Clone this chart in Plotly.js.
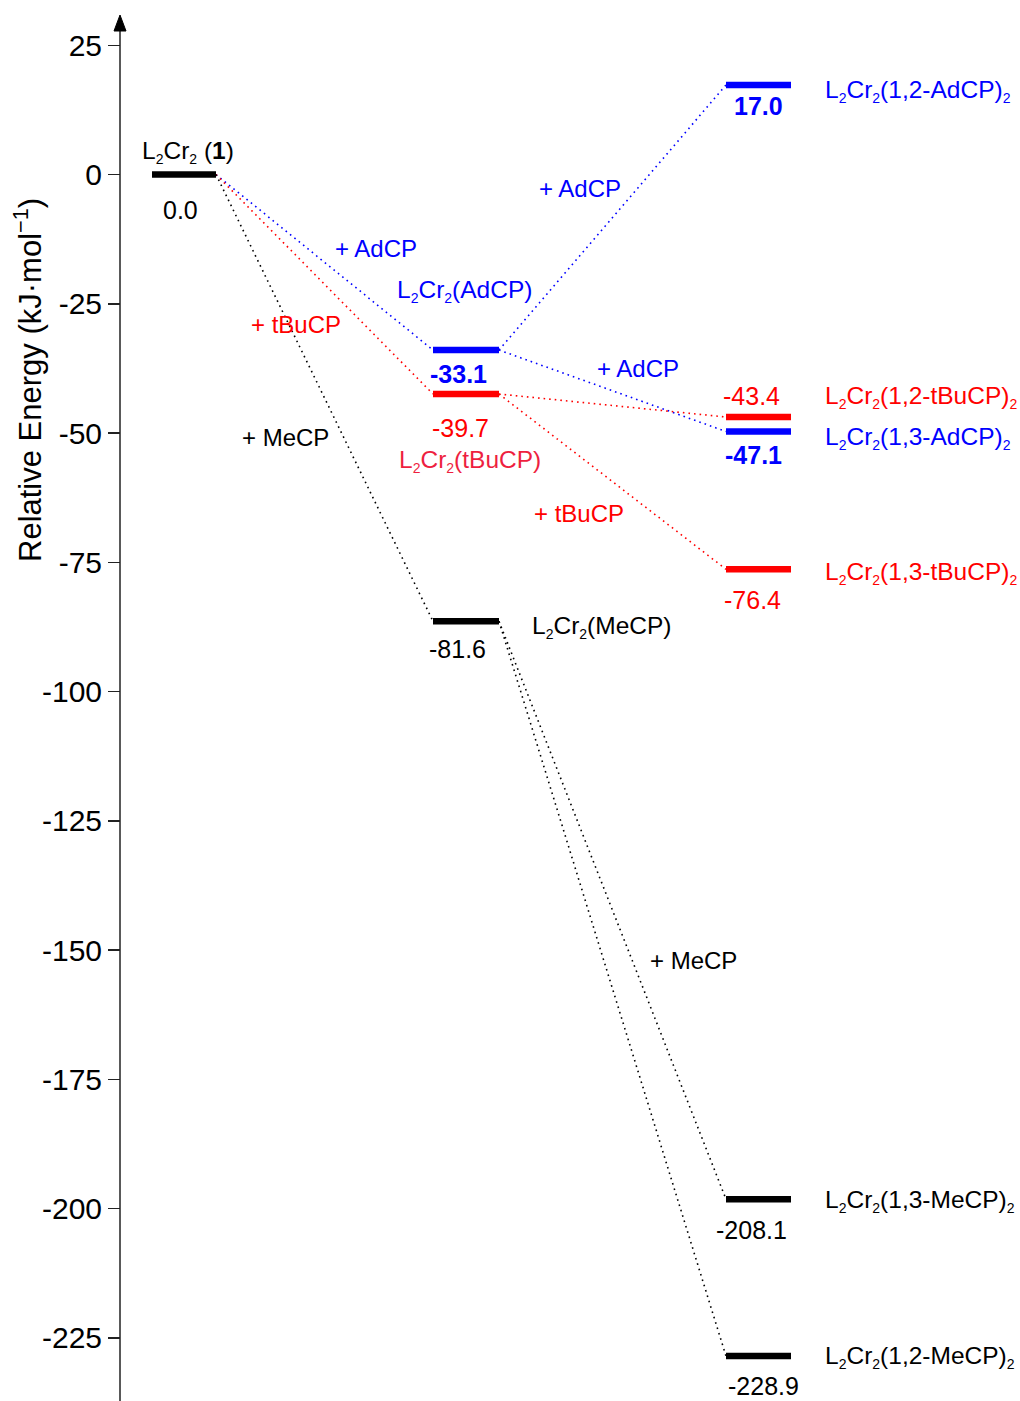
<!DOCTYPE html>
<html><head><meta charset="utf-8">
<script src="https://cdn.plot.ly/plotly-3.0.1.min.js"></script>
<style>html,body{margin:0;padding:0;background:#fff}#chart{width:1020px;height:1401px}</style>
</head><body><div id="chart"></div>
<script>
// ---------- data ----------
const S2 = '<sub><span style="font-size:14px">2</span></sub>';
const speciesNames = [
  'L' + S2 + 'Cr' + S2 + ' (<b>1</b>)',
  'L' + S2 + 'Cr' + S2 + '(AdCP)',
  'L' + S2 + 'Cr' + S2 + '(tBuCP)',
  'L' + S2 + 'Cr' + S2 + '(MeCP)',
  'L' + S2 + 'Cr' + S2 + '(1,2-AdCP)' + S2,
  'L' + S2 + 'Cr' + S2 + '(1,3-AdCP)' + S2,
  'L' + S2 + 'Cr' + S2 + '(1,2-tBuCP)' + S2,
  'L' + S2 + 'Cr' + S2 + '(1,3-tBuCP)' + S2,
  'L' + S2 + 'Cr' + S2 + '(1,3-MeCP)' + S2,
  'L' + S2 + 'Cr' + S2 + '(1,2-MeCP)' + S2
];
const speciesSeries = ['none','AdCP','tBuCP','MeCP','AdCP','AdCP','tBuCP','tBuCP','MeCP','MeCP'];
const speciesStage = [0, 1, 1, 1, 2, 2, 2, 2, 2, 2];
// level heights as drawn in the picture (kJ/mol)
const drawnLevels = [0, -33.95, -42.46, -86.42, 17.31, -49.71, -46.91, -76.36, -198.2, -228.55];
// energy labels printed next to each level
const energyLabels = ['0.0', '-33.1', '-39.7', '-81.6', '17.0', '-47.1', '-43.4', '-76.4', '-208.1', '-228.9'];
// reaction steps: [from, to]
const links = [[0,1],[0,2],[0,3],[1,4],[1,5],[2,6],[2,7],[3,8],[3,9]];
const reactionLabels = ['+ AdCP', '+ tBuCP', '+ MeCP', '+ AdCP', '+ AdCP', '+ tBuCP', '+ MeCP'];
const reactionSeries = ['AdCP', 'tBuCP', 'MeCP', 'AdCP', 'AdCP', 'tBuCP', 'MeCP'];
const tickVals = [25, 0, -25, -50, -75, -100, -125, -150, -175, -200, -225];
const tickText = ['25', '0', '-25', '-50', '-75', '-100', '-125', '-150', '-175', '-200', '-225'];

// ---------- styling / layout ----------
const FONT = 'Liberation Sans, Arial, Helvetica, sans-serif';
const seriesColor = {none: '#000000', AdCP: '#0000FF', tBuCP: '#FF0000', MeCP: '#000000'};
const stageX = [[152, 216], [433, 499], [726, 791]];
const ZERO_PX = 174.5, K = 5.17, H = 1401;
const px2y = p => (ZERO_PX - p) / K;
const yTop = px2y(0), yBot = px2y(H);

// value label placement: [dx from bar center, dy px below (neg = above), bold]
const valuePos = [[-4,35,0],[-8,24,1],[-6,34,0],[-9,28,0],[0,21,1],[-5,23,1],[-7,-21,0],[-6,31,0],[-7,31,0],[5,30,0]];
// name label placement: [x px, xanchor, dy px below]
const namePos = [[188,'center',-23],[464,'center',-59],[470,'center',67],[530,'left',6],
  [823,'left',6],[823,'left',6.5],[823,'left',-20],[823,'left',4],[823,'left',2],[823,'left',1]];
const nameColor = i => (i === 2 ? '#EE1F3F' : seriesColor[speciesSeries[i]]);
const reactionPos = [[376,248],[296,324],[285,437],[580,188],[638,368],[579,513],[693,960]];

const traces = [];
links.forEach(([a, b]) => {
  traces.push({
    x: [stageX[speciesStage[a]][1], stageX[speciesStage[b]][0]],
    y: [drawnLevels[a], drawnLevels[b]],
    mode: 'lines', hoverinfo: 'skip', showlegend: false,
    line: {color: seriesColor[speciesSeries[b]], width: 1.6, dash: '1.6px,4px'}
  });
});
drawnLevels.forEach((lv, i) => {
  const st = stageX[speciesStage[i]];
  traces.push({
    x: [st[0], st[1]], y: [lv, lv], mode: 'lines', hoverinfo: 'skip', showlegend: false,
    line: {color: seriesColor[speciesSeries[i]], width: 6.5}
  });
});

const ann = [];
drawnLevels.forEach((lv, i) => {
  const st = stageX[speciesStage[i]];
  const c = (st[0] + st[1]) / 2;
  const vp = valuePos[i];
  ann.push({x: c + vp[0], y: lv, yshift: -vp[1], xref: 'x', yref: 'y', showarrow: false,
    xanchor: 'center', yanchor: 'middle',
    text: vp[2] ? '<b>' + energyLabels[i] + '</b>' : energyLabels[i],
    font: {family: FONT, size: 25, color: seriesColor[speciesSeries[i]]}});
  const np = namePos[i];
  ann.push({x: np[0], y: lv, yshift: -np[2], xref: 'x', yref: 'y', showarrow: false,
    xanchor: np[1], yanchor: 'middle', text: speciesNames[i],
    font: {family: FONT, size: 24.5, color: nameColor(i)}});
});
reactionLabels.forEach((t, i) => {
  ann.push({x: reactionPos[i][0], y: px2y(reactionPos[i][1]), xref: 'x', yref: 'y', showarrow: false,
    xanchor: 'center', yanchor: 'middle', text: t,
    font: {family: FONT, size: 24, color: seriesColor[reactionSeries[i]]}});
});
ann.push({x: 28, y: px2y(380), xref: 'x', yref: 'y', showarrow: false, textangle: -90,
  xanchor: 'center', yanchor: 'middle', text: 'Relative Energy (kJ·mol<sup>−1</sup>)',
  font: {family: FONT, size: 31, color: '#000'}});

const layout = {
  width: 1020, height: 1401,
  margin: {l: 0, r: 0, t: 0, b: 0, pad: 0},
  paper_bgcolor: '#fff', plot_bgcolor: '#fff',
  showlegend: false,
  xaxis: {range: [0, 1020], visible: false, fixedrange: true},
  yaxis: {range: [yBot, yTop], anchor: 'free', position: 120 / 1020, showline: false,
    showgrid: false, zeroline: false, ticks: 'outside', ticklen: 12, tickwidth: 1.5, tickcolor: '#222',
    tickvals: tickVals, ticktext: tickText, automargin: false,
    tickfont: {family: FONT, size: 30, color: '#000'}, fixedrange: true},
  shapes: [
    {type: 'line', xref: 'x', yref: 'y', x0: 120, x1: 120, y0: yBot, y1: px2y(28),
      line: {color: '#222', width: 1.5}},
    {type: 'path', xref: 'x', yref: 'y',
      path: `M114,${px2y(31)} L120,${px2y(15)} L126,${px2y(31)} Z`,
      fillcolor: '#000', line: {color: '#000', width: 1}}
  ],
  annotations: ann
};
Plotly.newPlot('chart', traces, layout, {staticPlot: true, displayModeBar: false});
</script></body></html>
